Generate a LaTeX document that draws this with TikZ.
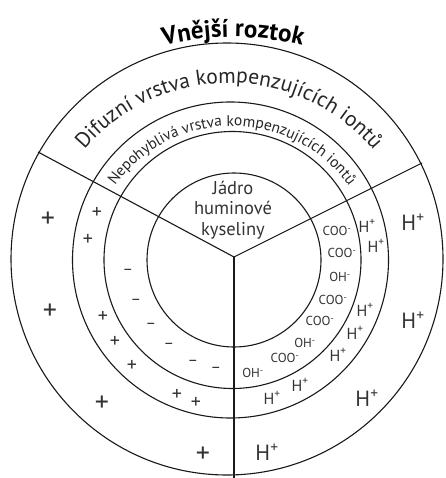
\documentclass[tikz,border=0pt]{standalone}
\usepackage{fontspec}
\setmainfont{PT Sans}
\usetikzlibrary{decorations.text}
\newcommand\supx[1]{\textsuperscript{#1}}
\begin{document}
\begin{tikzpicture}[x=1pt,y=1pt,line width=1.1pt,
  lbl/.style={text=black!80,inner sep=0pt},
  bigsign/.style={lbl,font=\fontsize{28}{28}\selectfont},
  smallsign/.style={lbl,font=\fontsize{20}{20}\selectfont},
  minussign/.style={lbl,font=\fontsize{16}{16}\selectfont},
  ion/.style={lbl,font=\fontsize{13}{13}\selectfont},
  hbig/.style={lbl,font=\fontsize{22}{22}\selectfont},
  hsmall/.style={lbl,font=\fontsize{16}{16}\selectfont},
  ring/.style={draw=black!90}]
\useasboundingbox (0,0) rectangle (445,-478);
% rings
\draw[ring] (234,-260) circle[radius=87];
\draw[ring] (232.5,-260) circle[radius=128.5];
\draw[ring] (230.5,-260) circle[radius=158];
\draw[ring] (227,-259) circle[radius=216];
% separators
\coordinate (O) at (234,-257);
\coordinate (ul) at (38,-152);
\coordinate (ur) at (422,-163);
\coordinate (bt) at (234,-478);
\draw[ring] (O) -- (ul);
\draw[ring] (O) -- (ur);
\draw[ring] (O) -- (bt);
% curved titles
\path[decorate,decoration={text along path,text align=center,text color=black,
  text format delimiters={|}{|},
  text={|\fontsize{25}{25}\selectfont\bfseries|Vnější roztok}}]
  (233,-320) ++(120:283) arc[start angle=120,end angle=60,radius=283];
\path[decorate,decoration={text along path,text align=center,text color=black!85,
  text format delimiters={|}{|},
  text={|\fontsize{21.5}{21.5}\selectfont|Difuzní vrstva kompenzujících iontů}}]
  (229,-272) ++(150:189) arc[start angle=150,end angle=30,radius=189];
\path[decorate,decoration={text along path,text align=center,text color=black!85,
  text format delimiters={|}{|},
  text={|\fontsize{15.5}{15.5}\selectfont|Nepohyblivá vrstva kompenzujících iontů}}]
  (232,-270) ++(160:144) arc[start angle=160,end angle=20,radius=144];
% core
\node[lbl,align=center,font=\fontsize{18.5}{20.5}\selectfont] (core) at (233,-210) {Jádro\\huminové\\kyseliny};
% left segment: large pluses
\node[bigsign] (lp1) at (48,-220) {+};
\node[bigsign] (lp2) at (50,-312) {+};
\node[bigsign] (lp3) at (102,-404) {+};
\node[bigsign] (lp4) at (203,-455) {+};
% small pluses
\node[smallsign] (sp1) at (97,-213) {+};
\node[smallsign] (sp2) at (88,-240) {+};
\node[smallsign] (sp3) at (103,-317) {+};
\node[smallsign] (sp4) at (115,-342) {+};
\node[smallsign] (sp5) at (132,-366) {+};
\node[smallsign] (sp6) at (177,-395) {+};
\node[smallsign] (sp7) at (196,-403) {+};
% minuses
\node[minussign] (m1) at (128,-272) {–};
\node[minussign] (m2) at (136,-302) {–};
\node[minussign] (m3) at (151,-326) {–};
\node[minussign] (m4) at (169,-346) {–};
\node[minussign] (m5) at (193,-363) {–};
\node[minussign] (m6) at (216,-370) {–};
% right segment: groups
\node[ion] (i1) at (337,-231) {COO\supx{-}};
\node[ion] (i2) at (342,-253) {COO\supx{-}};
\node[ion] (i3) at (340,-277) {OH\supx{-}};
\node[ion] (i4) at (333,-300) {COO\supx{-}};
\node[ion] (i5) at (320,-321) {COO\supx{-}};
\node[ion] (i6) at (305,-343) {OH\supx{-}};
\node[ion] (i7) at (285,-358) {COO\supx{-}};
\node[ion] (i8) at (253,-373) {OH\supx{-}};
% small H+
\node[hsmall] (h1) at (367,-226) {H\supx{+}};
\node[hsmall] (h2) at (376,-246) {H\supx{+}};
\node[hsmall] (h3) at (365,-310) {H\supx{+}};
\node[hsmall] (h4) at (355,-333) {H\supx{+}};
\node[hsmall] (h5) at (338,-355) {H\supx{+}};
\node[hsmall] (h6) at (300,-385) {H\supx{+}};
\node[hsmall] (h7) at (272,-398) {H\supx{+}};
% large H+
\node[hbig] (H1) at (413,-222) {H\supx{+}};
\node[hbig] (H2) at (413,-320) {H\supx{+}};
\node[hbig] (H3) at (367,-398) {H\supx{+}};
\node[hbig] (H4) at (267,-452) {H\supx{+}};
\end{tikzpicture}
\end{document}
